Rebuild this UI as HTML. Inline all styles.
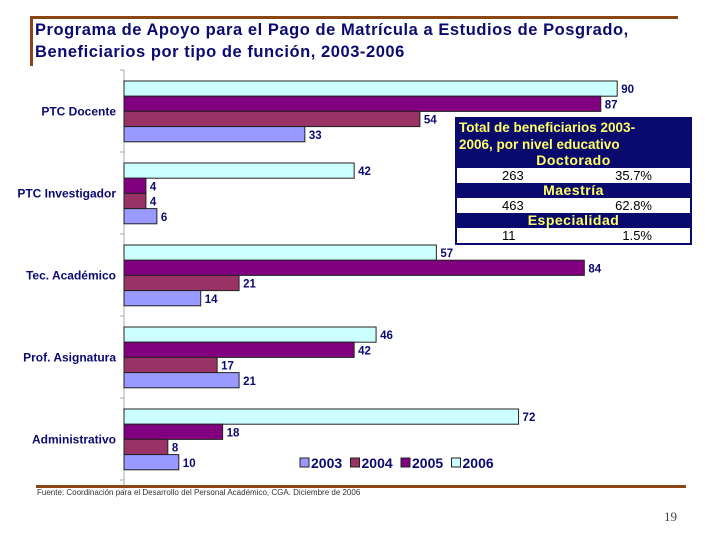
<!DOCTYPE html>
<html><head><meta charset="utf-8"><style>
body{margin:0;width:720px;height:540px;background:#fff;position:relative;overflow:hidden;font-family:"Liberation Sans",sans-serif}
.abs{position:absolute}
#title{left:35px;top:19px;color:#0a0a70;font-weight:bold;font-size:16.5px;line-height:22px;letter-spacing:0.55px}
#tbl{left:455px;top:117px;width:233px;border:2px solid #0a0a6e;background:#0a0a6e;font-size:13px}
#tbl div{text-align:center;line-height:15px}
.h{color:#ffff66;font-weight:bold;font-size:14px;letter-spacing:0.5px}
.w{background:#fff;color:#000;display:flex;justify-content:space-between;padding:0 38px 0 45px}
</style></head><body>
<div class="abs" style="left:30px;top:16px;width:648px;height:3px;background:#8b4513"></div>
<div class="abs" style="left:30px;top:16px;width:3px;height:50px;background:#8b4513"></div>
<div class="abs" id="title">Programa de Apoyo para el Pago de Matrícula a Estudios de Posgrado,<br>Beneficiarios por tipo de función, 2003-2006</div>
<svg class="abs" style="left:0;top:0" width="720" height="540" id="chart"></svg>
<div class="abs" id="tbl">
<div style="color:#ffff66;font-weight:bold;text-align:left;padding-left:2px;line-height:17px;font-size:13.5px">Total de beneficiarios 2003-<br>2006, por nivel educativo</div>
<div class="h">Doctorado</div>
<div class="w"><span>263</span><span>35.7%</span></div>
<div class="h">Maestría</div>
<div class="w"><span>463</span><span>62.8%</span></div>
<div class="h">Especialidad</div>
<div class="w"><span>11</span><span>1.5%</span></div>
</div>
<div class="abs" style="left:36px;top:485px;width:650px;height:3px;background:#8b4513"></div>
<div class="abs" style="left:37px;top:488px;font-size:8px;color:#333">Fuente: Coordinación para el Desarrollo del Personal Académico, CGA. Diciembre de 2006</div>
<div class="abs" style="left:664px;top:509px;font-family:'Liberation Serif',serif;font-size:13px;color:#444">19</div>
<script>
const categories=["PTC Docente","PTC Investigador","Tec. Académico","Prof. Asignatura","Administrativo"];
const years=["2003","2004","2005","2006"];
const v2003=[33,6,14,21,10];
const v2004=[54,4,21,17,8];
const v2005=[87,4,84,42,18];
const v2006=[90,42,57,46,72];
const colors={"2003":"#9999ff","2004":"#993366","2005":"#800080","2006":"#ccffff"};
const svg=document.getElementById('chart');
const NS="http://www.w3.org/2000/svg";
const x0=124,scale=5.48,g0=81,gStep=82,bh=15.2;
const xs=v=>x0+v*scale;
function mk(t,a){const e=document.createElementNS(NS,t);for(const k in a)e.setAttribute(k,a[k]);svg.appendChild(e);return e;}
const ax=mk('line',{x1:x0,y1:70,x2:x0,y2:490,stroke:'#aaa','stroke-width':1});


for(let i=0;i<=categories.length;i++){const y=g0-11+i*gStep;const t=mk('line',{x1:x0-4,y1:y,x2:x0,y2:y,stroke:'#aaa'});

}
const series=[["2006",v2006],["2005",v2005],["2004",v2004],["2003",v2003]];
categories.forEach((c,i)=>{
 const gy=g0+i*gStep;
 const lab=mk('text',{x:116,y:gy+2*bh+4,'text-anchor':'end','font-size':12,'font-weight':'bold',fill:'#0a0a70','font-family':'Liberation Sans, sans-serif'});
 lab.textContent=c;
 
 
 series.forEach(([yr,arr],j)=>{
  const y=gy+j*bh;
  const r=mk('rect',{x:x0,y:y,width:xs(arr[i])-x0,height:bh,fill:colors[yr],stroke:'#222','stroke-width':1});
  
  
  const t=mk('text',{x:xs(arr[i])+4,y:y+bh-3,'font-size':11.5,'font-weight':'bold',fill:'#0a0a70','font-family':'Liberation Sans, sans-serif'});
  t.textContent=arr[i];
  
  
 });
});
let lx=300;
years.forEach(yr=>{
 const s=mk('rect',{x:lx,y:458,width:9,height:9,fill:colors[yr],stroke:'#222'});
 
 
 const t=mk('text',{x:lx+11,y:468,'font-size':14,'font-weight':'bold',fill:'#0a0a70','font-family':'Liberation Sans, sans-serif'});
 t.textContent=yr;
 
 
 lx+=50.5;
});
</script>
</body></html>
